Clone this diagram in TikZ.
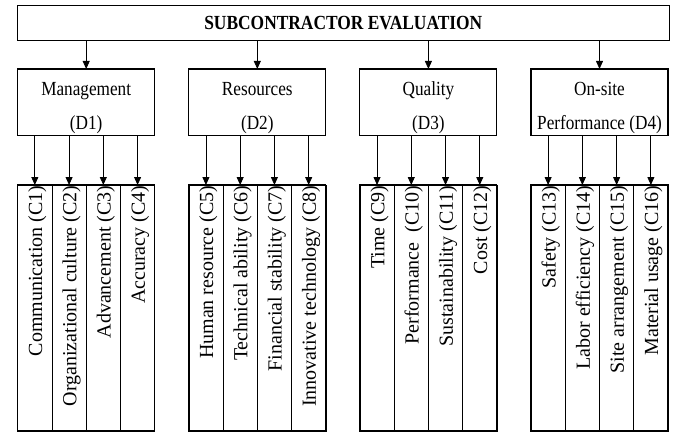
\documentclass[tikz,border=0pt]{standalone}
\usepackage{fontspec}
\setmainfont{Liberation Serif}
\newfontfamily\narrowserif[FakeStretch=0.86]{Liberation Serif}
\newfontfamily\titleserif[FakeStretch=0.87]{Liberation Serif}
\usetikzlibrary{positioning,arrows.meta}

\begin{document}
\begin{tikzpicture}[x=1pt, y=-1pt, node distance=34.1pt,
    box/.style={draw, rectangle, line width=1.1pt, inner sep=0pt, outer sep=0pt},
    dbox/.style={box, minimum width=137pt, minimum height=66.7pt},
    dtext/.style={yshift=-5.5pt, align=center, font=\narrowserif\fontsize{20}{34}\selectfont},
    col/.style={draw, rectangle, line width=0.6pt, inner sep=0pt, outer sep=0pt,
      minimum width=34.25pt, minimum height=246pt},
    ctext/.style={xshift=2.5pt, rotate=90, anchor=east, inner sep=0.5pt, font=\fontsize{20}{24}\selectfont},
    frame/.style={line width=1.1pt},
    arr/.style={-{Triangle[length=8pt, width=7pt]}, line width=0.8pt}]

    \useasboundingbox (0,0) rectangle (676,432);

    % goal
    \node [box, minimum width=651.5pt, minimum height=35pt,
      font=\titleserif\bfseries\fontsize{20}{24}\selectfont] (top) at (343.3,23.2) {SUBCONTRACTOR EVALUATION};

    % dimensions
    \node [dbox] (D1) at (86.2,102.3) {};
    \node [dbox, right=of D1] (D2) {};
    \node [dbox, right=of D2] (D3) {};
    \node [dbox, right=of D3] (D4) {};
    \node [dtext] at (D1) {Management\\(D1)};
    \node [dtext] at (D2) {Resources\\(D2)};
    \node [dtext] at (D3) {Quality\\(D3)};
    \node [dtext] at (D4) {On-site\\Performance (D4)};

    % criteria of D1
    \node [col, anchor=north west] (c1) at (17.7,185) {};
    \node [col, right=0pt of c1] (c2) {};
    \node [col, right=0pt of c2] (c3) {};
    \node [col, right=0pt of c3] (c4) {};
    % criteria of D2
    \node [col, right=of c4] (c5) {};
    \node [col, right=0pt of c5] (c6) {};
    \node [col, right=0pt of c6] (c7) {};
    \node [col, right=0pt of c7] (c8) {};
    % criteria of D3
    \node [col, right=of c8] (c9) {};
    \node [col, right=0pt of c9] (c10) {};
    \node [col, right=0pt of c10] (c11) {};
    \node [col, right=0pt of c11] (c12) {};
    % criteria of D4
    \node [col, right=of c12] (c13) {};
    \node [col, right=0pt of c13] (c14) {};
    \node [col, right=0pt of c14] (c15) {};
    \node [col, right=0pt of c15] (c16) {};

    \draw [frame] (c1.north west) rectangle (c4.south east);
    \draw [frame] (c5.north west) rectangle (c8.south east);
    \draw [frame] (c9.north west) rectangle (c12.south east);
    \draw [frame] (c13.north west) rectangle (c16.south east);

    \node [ctext] at (c1.north) {Communication (C1)};
    \node [ctext] at (c2.north) {Organizational culture (C2)};
    \node [ctext] at (c3.north) {Advancement (C3)};
    \node [ctext] at (c4.north) {Accuracy (C4)};
    \node [ctext] at (c5.north) {Human resource (C5)};
    \node [ctext] at (c6.north) {Technical ability (C6)};
    \node [ctext] at (c7.north) {Financial stability (C7)};
    \node [ctext] at (c8.north) {Innovative technology (C8)};
    \node [ctext] at (c9.north) {Time (C9)};
    \node [ctext] at (c10.north) {Performance~ (C10)};
    \node [ctext] at (c11.north) {Sustainability (C11)};
    \node [ctext] at (c12.north) {Cost (C12)};
    \node [ctext] at (c13.north) {Safety (C13)};
    \node [ctext] at (c14.north) {Labor efficiency (C14)};
    \node [ctext] at (c15.north) {Site arrangement (C15)};
    \node [ctext] at (c16.north) {Material usage (C16)};

    % goal to dimensions
    \draw [arr] (D1.north |- top.south) -- (D1.north);
    \draw [arr] (D2.north |- top.south) -- (D2.north);
    \draw [arr] (D3.north |- top.south) -- (D3.north);
    \draw [arr] (D4.north |- top.south) -- (D4.north);

    % dimensions to criteria
    \draw [arr] (c1.north |- D1.south) -- (c1.north);
    \draw [arr] (c2.north |- D1.south) -- (c2.north);
    \draw [arr] (c3.north |- D1.south) -- (c3.north);
    \draw [arr] (c4.north |- D1.south) -- (c4.north);
    \draw [arr] (c5.north |- D2.south) -- (c5.north);
    \draw [arr] (c6.north |- D2.south) -- (c6.north);
    \draw [arr] (c7.north |- D2.south) -- (c7.north);
    \draw [arr] (c8.north |- D2.south) -- (c8.north);
    \draw [arr] (c9.north |- D3.south) -- (c9.north);
    \draw [arr] (c10.north |- D3.south) -- (c10.north);
    \draw [arr] (c11.north |- D3.south) -- (c11.north);
    \draw [arr] (c12.north |- D3.south) -- (c12.north);
    \draw [arr] (c13.north |- D4.south) -- (c13.north);
    \draw [arr] (c14.north |- D4.south) -- (c14.north);
    \draw [arr] (c15.north |- D4.south) -- (c15.north);
    \draw [arr] (c16.north |- D4.south) -- (c16.north);
\end{tikzpicture}
\end{document}
